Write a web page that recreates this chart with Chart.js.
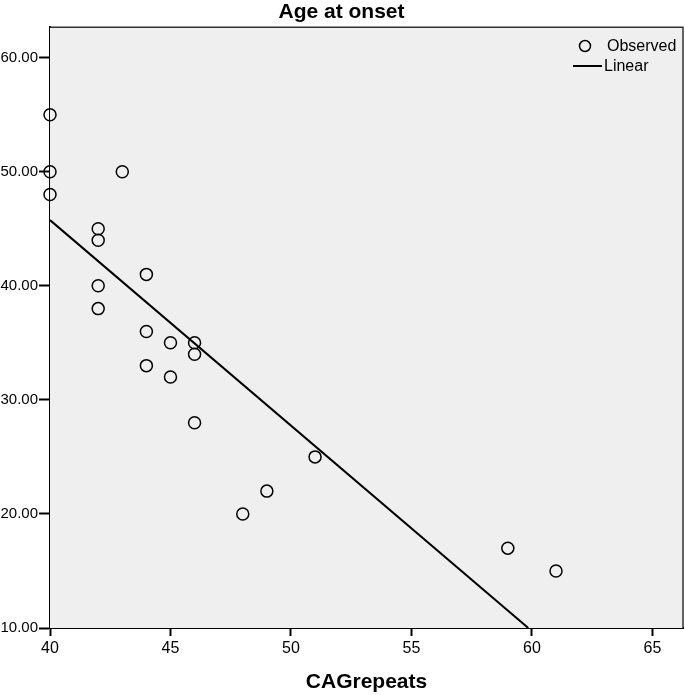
<!DOCTYPE html>
<html>
<head>
<meta charset="utf-8">
<script src="https://cdn.jsdelivr.net/npm/chart.js@4.4.1/dist/chart.umd.min.js"></script>
<style>
  html, body { margin: 0; padding: 0; background: #fff; overflow: hidden; }
  #wrap { width: 685px; height: 695px; }
  canvas { display: block; }
</style>
</head>
<body>
<div id="wrap"><canvas id="chart" width="685" height="695"></canvas></div>
<script>
// observed points (CAG repeats vs age at onset)
var cagRepeats = [40, 40, 40, 43, 42, 42, 44, 42, 42, 44, 45, 46, 46, 44, 45, 46, 51, 49, 48, 59, 61];
var ageAtOnset = [55, 50, 48, 50, 45, 44, 41, 40, 38, 36, 35, 35, 34, 33, 32, 28, 25, 22, 20, 17, 15];

// fitted linear line, end points
var linearX = [40, 59.85];
var linearY = [45.76, 10];

var xTicks = [40, 45, 50, 55, 60, 65];
var yTicks = [10, 20, 30, 40, 50, 60];

var fontFamily = "'Liberation Sans', Arial, sans-serif";

var observed = [];
for (var i = 0; i < cagRepeats.length; i++) {
    observed.push({ x: cagRepeats[i], y: ageAtOnset[i] });
}
var linear = [];
for (var i = 0; i < linearX.length; i++) {
    linear.push({ x: linearX[i], y: linearY[i] });
}

// gray plot background + thin top/right frame
var plotBg = {
    id: 'plotBg',
    beforeDatasetsDraw: function(chart) {
        var ctx = chart.ctx;
        var a = chart.chartArea;
        ctx.save();
        ctx.fillStyle = '#efefef';
        ctx.fillRect(a.left, a.top, a.right - a.left, a.bottom - a.top);
        ctx.strokeStyle = '#333';
        ctx.lineWidth = 1.5;
        ctx.beginPath();
        ctx.moveTo(a.left, a.top);
        ctx.lineTo(a.right, a.top);
        ctx.lineTo(a.right, a.bottom);
        ctx.stroke();
        ctx.restore();
    }
};

// legend in the upper right corner
var cornerLegend = {
    id: 'cornerLegend',
    afterDraw: function(chart) {
        var ctx = chart.ctx;
        ctx.save();
        ctx.strokeStyle = '#000';
        ctx.fillStyle = '#000';
        ctx.lineWidth = 1.5;
        ctx.beginPath();
        ctx.arc(585, 46, 5.5, 0, Math.PI * 2);
        ctx.stroke();
        ctx.beginPath();
        ctx.lineWidth = 2;
        ctx.moveTo(573, 66);
        ctx.lineTo(602, 66);
        ctx.stroke();
        ctx.font = '16px ' + fontFamily;
        ctx.textBaseline = 'middle';
        ctx.textAlign = 'left';
        ctx.fillText(chart.data.datasets[0].label, 607, 47);
        ctx.fillText(chart.data.datasets[1].label, 604, 67);
        ctx.restore();
    }
};

function noPadding(scale) {
    scale.paddingLeft = 0;
    scale.paddingRight = 0;
    scale.paddingTop = 0;
    scale.paddingBottom = 0;
}

new Chart(document.getElementById('chart'), {
    type: 'scatter',
    data: {
        datasets: [{
                label: 'Observed',
                data: observed,
                pointStyle: 'circle',
                pointRadius: 6,
                pointHoverRadius: 6,
                borderColor: '#000',
                borderWidth: 1.5,
                backgroundColor: 'rgba(0,0,0,0)',
                clip: false
            },
            {
                label: 'Linear',
                type: 'line',
                data: linear,
                borderColor: '#000',
                borderWidth: 2,
                pointRadius: 0,
                fill: false,
                tension: 0
            }
        ]
    },
    options: {
        responsive: false,
        animation: false,
        layout: { autoPadding: false, padding: { left: 0, right: 2, top: 0, bottom: 0 } },
        plugins: {
            legend: { display: false },
            tooltip: { enabled: false },
            title: {
                display: true,
                text: 'Age at onset',
                color: '#000',
                font: { family: fontFamily, size: 21, weight: 'bold' },
                padding: { top: 0, bottom: 2 }
            }
        },
        scales: {
            x: {
                type: 'linear',
                min: 40,
                max: 66.27,
                afterBuildTicks: function(scale) {
                    scale.ticks = xTicks.map(function(v) { return { value: v }; });
                },
                afterFit: function(scale) {
                    scale.height = 67;
                    noPadding(scale);
                },
                grid: { drawOnChartArea: false, drawTicks: true, tickLength: 8, tickColor: '#000', tickWidth: 2 },
                border: { color: '#000', width: 2 },
                ticks: {
                    color: '#000',
                    padding: 3,
                    maxRotation: 0,
                    font: { family: fontFamily, size: 16 }
                },
                title: {
                    display: true,
                    text: 'CAGrepeats',
                    color: '#000',
                    font: { family: fontFamily, size: 21, weight: 'bold' },
                    padding: { top: 0, bottom: 0 }
                }
            },
            y: {
                type: 'linear',
                min: 10,
                max: 62.67,
                afterBuildTicks: function(scale) {
                    scale.ticks = yTicks.map(function(v) { return { value: v }; });
                },
                afterFit: function(scale) {
                    scale.width = 50;
                    noPadding(scale);
                },
                grid: { drawOnChartArea: false, drawTicks: true, tickLength: 11, tickColor: '#000', tickWidth: 2 },
                border: { color: '#000', width: 2 },
                ticks: {
                    color: '#000',
                    padding: 1,
                    font: { family: fontFamily, size: 15 },
                    callback: function(v) { return Number(v).toFixed(2); }
                }
            }
        }
    },
    plugins: [plotBg, cornerLegend]
});
</script>
</body>
</html>
